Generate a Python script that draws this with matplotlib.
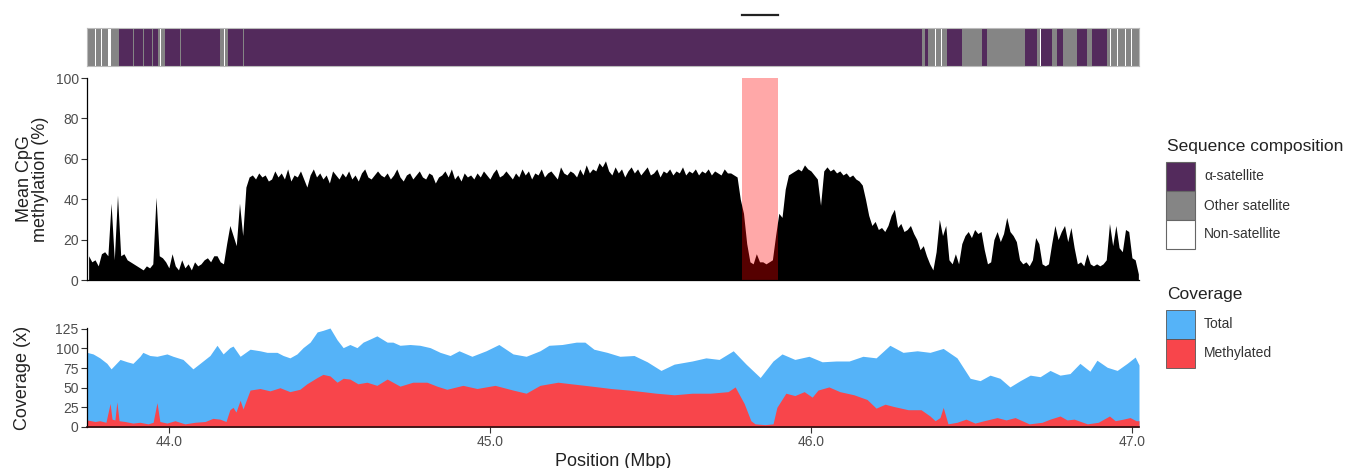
import numpy as np
import matplotlib
matplotlib.use("Agg")
import matplotlib.pyplot as plt
from matplotlib.patches import Rectangle
from matplotlib.transforms import blended_transform_factory

plt.rcParams['font.family'] = ['Liberation Sans', 'DejaVu Sans']

# ---- data ----
# mean CpG methylation (%) on a 0.01 Mbp grid starting at 43.75 Mbp
meth_start = 43.75
meth_step = 0.01
meth_pct = [
    12, 9, 10, 7, 13, 14, 12, 38, 10, 42,    # 43.75
    12, 13, 10, 9, 8, 7, 6, 5, 7, 6,         # 43.85
    8, 41, 12, 11, 9, 6, 13, 7, 5, 10,       # 43.95
    6, 8, 5, 9, 7, 8, 10, 11, 9, 12,         # 44.05
    12, 9, 8, 18, 27, 22, 17, 38, 22, 46,    # 44.15
    51, 52, 50, 53, 51, 52, 49, 50, 54, 51,  # 44.25
    53, 50, 55, 49, 52, 51, 54, 50, 46, 52,  # 44.35
    55, 51, 53, 50, 52, 48, 54, 52, 50, 53,  # 44.45
    51, 54, 50, 52, 49, 53, 55, 51, 50, 52,  # 44.55
    54, 52, 51, 53, 50, 52, 55, 51, 49, 52,  # 44.65
    53, 50, 52, 54, 51, 50, 53, 52, 48, 51,  # 44.75
    52, 54, 51, 55, 50, 52, 49, 53, 51, 52,  # 44.85
    50, 53, 51, 54, 52, 50, 53, 55, 51, 52,  # 44.95
    54, 52, 50, 53, 51, 55, 52, 54, 50, 53,  # 45.05
    52, 55, 51, 53, 54, 52, 50, 56, 53, 52,  # 45.15
    54, 53, 51, 55, 52, 57, 53, 55, 54, 58,  # 45.25
    56, 59, 54, 52, 56, 53, 55, 51, 54, 56,  # 45.35
    53, 55, 52, 54, 56, 52, 53, 55, 51, 54,  # 45.45
    53, 55, 52, 54, 53, 56, 52, 54, 53, 55,  # 45.55
    52, 54, 53, 55, 52, 54, 53, 52, 55, 53,  # 45.65
    53, 52, 51, 40, 33, 18, 9, 8, 13, 9,     # 45.75
    9, 8, 9, 10, 22, 33, 31, 45, 52, 53,     # 45.85
    54, 55, 54, 57, 55, 54, 52, 50, 37, 54,  # 45.95
    56, 54, 55, 53, 54, 52, 53, 51, 52, 50,  # 46.05
    49, 47, 40, 32, 27, 29, 25, 26, 24, 27,  # 46.15
    32, 35, 26, 28, 24, 25, 27, 23, 20, 15,  # 46.25
    17, 12, 8, 5, 14, 30, 22, 27, 10, 8,     # 46.35
    13, 8, 18, 22, 24, 21, 25, 23, 24, 15,   # 46.45
    8, 9, 20, 24, 19, 23, 31, 24, 22, 19,    # 46.55
    10, 8, 9, 7, 10, 21, 18, 8, 7, 8,        # 46.65
    18, 27, 20, 24, 27, 19, 26, 16, 8, 9,    # 46.75
    7, 13, 8, 7, 8, 7, 8, 10, 28, 17,        # 46.85
    27, 16, 14, 25, 24, 11, 10, 3,           # 46.95
]

# total coverage
total_pos = [43.745, 43.764, 43.785, 43.807, 43.820, 43.848, 43.870, 43.888, 43.910, 43.919,
             43.941, 43.963, 43.994, 44.013, 44.044, 44.075, 44.097, 44.128, 44.150, 44.169,
             44.190, 44.200, 44.222, 44.253, 44.284, 44.306, 44.337, 44.356, 44.377, 44.399,
             44.418, 44.440, 44.462, 44.480, 44.502, 44.524, 44.543, 44.564, 44.586, 44.605,
             44.627, 44.648, 44.680, 44.698, 44.720, 44.751, 44.782, 44.814, 44.845, 44.876,
             44.904, 44.944, 44.988, 45.028, 45.072, 45.113, 45.156, 45.184, 45.225, 45.269,
             45.296, 45.324, 45.365, 45.405, 45.449, 45.490, 45.533, 45.574, 45.630, 45.673,
             45.714, 45.758, 45.798, 45.842, 45.882, 45.910, 45.950, 45.994, 46.035, 46.078,
             46.119, 46.162, 46.203, 46.246, 46.287, 46.331, 46.371, 46.412, 46.455, 46.496,
             46.527, 46.558, 46.589, 46.620, 46.652, 46.683, 46.714, 46.745, 46.776, 46.807,
             46.838, 46.869, 46.891, 46.923, 46.954, 46.985, 47.010, 47.022]
total_cov = [95, 93, 88, 81, 74, 86, 83, 81, 90, 95,
             91, 90, 93, 90, 86, 74, 81, 91, 104, 93,
             101, 103, 90, 99, 97, 95, 95, 91, 88, 93,
             101, 108, 121, 123, 126, 111, 101, 105, 101, 108,
             112, 116, 108, 108, 104, 105, 104, 101, 95, 91,
             97, 90, 97, 105, 93, 90, 97, 104, 105, 108,
             108, 99, 95, 90, 91, 83, 72, 80, 84, 88,
             86, 97, 80, 63, 84, 93, 86, 90, 83, 84,
             84, 90, 88, 104, 95, 97, 95, 100, 88, 62,
             59, 66, 62, 51, 59, 66, 64, 72, 66, 68,
             81, 71, 85, 76, 72, 81, 89, 79]

# methylated coverage
meth_cov_pos = [43.745, 43.770, 43.785, 43.804, 43.817, 43.823, 43.832, 43.838, 43.845, 43.863,
                43.888, 43.910, 43.935, 43.951, 43.963, 43.972, 43.994, 44.019, 44.050, 44.081,
                44.113, 44.137, 44.159, 44.178, 44.190, 44.200, 44.209, 44.222, 44.231, 44.253,
                44.284, 44.315, 44.346, 44.377, 44.408, 44.430, 44.462, 44.480, 44.502, 44.524,
                44.543, 44.564, 44.589, 44.617, 44.648, 44.680, 44.720, 44.760, 44.804, 44.835,
                44.866, 44.916, 44.960, 45.016, 45.072, 45.113, 45.156, 45.212, 45.253, 45.296,
                45.337, 45.377, 45.433, 45.477, 45.518, 45.574, 45.630, 45.686, 45.742, 45.764,
                45.792, 45.813, 45.826, 45.857, 45.882, 45.894, 45.922, 45.950, 45.979, 46.004,
                46.022, 46.056, 46.090, 46.134, 46.175, 46.203, 46.231, 46.259, 46.303, 46.343,
                46.371, 46.387, 46.402, 46.412, 46.427, 46.455, 46.483, 46.511, 46.539, 46.580,
                46.608, 46.636, 46.680, 46.720, 46.745, 46.776, 46.798, 46.820, 46.861, 46.895,
                46.930, 46.948, 46.973, 46.994, 47.013, 47.022]
meth_cov = [9, 7, 8, 6, 30, 10, 9, 32, 8, 7,
            5, 6, 4, 6, 31, 7, 5, 8, 4, 6,
            7, 11, 10, 7, 22, 25, 19, 34, 23, 47,
            49, 46, 50, 45, 48, 55, 63, 67, 65, 57,
            62, 61, 55, 57, 53, 61, 52, 57, 57, 52,
            48, 53, 49, 53, 47, 43, 53, 57, 55, 53,
            51, 49, 47, 45, 43, 41, 43, 43, 45, 51,
            30, 8, 4, 3, 4, 25, 43, 40, 45, 38,
            47, 51, 45, 41, 35, 24, 29, 26, 22, 22,
            14, 8, 12, 25, 4, 6, 10, 5, 8, 12,
            9, 12, 4, 6, 10, 14, 9, 10, 4, 6,
            14, 8, 10, 12, 8, 8]

# sequence composition segments (edges in Mbp)
comp_edges = [43.745, 43.770, 43.773, 43.789, 43.792, 43.810, 43.819, 43.845, 43.888, 43.891,
              43.920, 43.923, 43.948, 43.951, 43.966, 43.972, 43.975, 43.988, 44.035, 44.038,
              44.159, 44.172, 44.175, 44.184, 44.231, 44.234, 46.346, 46.356, 46.365, 46.387,
              46.390, 46.405, 46.408, 46.424, 46.471, 46.533, 46.549, 46.667, 46.705, 46.714,
              46.717, 46.751, 46.767, 46.786, 46.829, 46.860, 46.876, 46.923, 46.932, 46.935,
              46.954, 46.957, 46.979, 46.982, 46.997, 47.000, 47.022]
comp_type = ["other", "non", "other", "non", "other", "non", "other", "alpha", "other",
             "alpha", "other", "alpha", "other", "alpha", "other", "non", "other", "alpha",
             "other", "alpha", "other", "non", "other", "alpha", "other", "alpha", "other",
             "alpha", "other", "non", "other", "non", "other", "alpha", "other", "alpha",
             "other", "alpha", "other", "non", "alpha", "other", "alpha", "other", "alpha",
             "other", "alpha", "other", "non", "other", "non", "other", "non", "other",
             "non", "other"]

cdr_start, cdr_end = 45.785, 45.898
x_ticks = [44.0, 45.0, 46.0, 47.0]

comp_colors = {"alpha": "#532a5c", "other": "#858585", "non": "#ffffff"}
comp_labels = {"alpha": "\u03b1-satellite", "other": "Other satellite", "non": "Non-satellite"}
blue = "#55b3f8"
red = "#f8454b"

# ---- figure ----
W, H = 1351, 468
fig = plt.figure(figsize=(W / 100, H / 100), dpi=100)


def px_axes(x0, y0, x1, y1):
    return fig.add_axes([x0 / W, 1 - y1 / H, (x1 - x0) / W, (y1 - y0) / H])


xmin, xmax = 43.745, 47.022
tick_kw = dict(length=4, width=0.8, color="#333333", labelcolor="#4d4d4d",
               labelsize=10, pad=2)

# composition bar
ax_top = px_axes(87, 28, 1139, 66)
for s, e, t in zip(comp_edges[:-1], comp_edges[1:], comp_type):
    ax_top.axvspan(s, e, color=comp_colors[t], lw=0)
ax_top.set_xlim(xmin, xmax)
ax_top.set_ylim(0, 1)
ax_top.set_xticks([])
ax_top.set_yticks([])
for sp in ax_top.spines.values():
    sp.set_color("#bbbbbb")
    sp.set_linewidth(0.8)
trans = blended_transform_factory(ax_top.transData, ax_top.transAxes)
ax_top.plot([cdr_start, cdr_end], [1.34, 1.34], transform=trans, clip_on=False,
            color="#222222", lw=1.6)

# methylation
meth_x = meth_start + meth_step * np.arange(len(meth_pct))
ax_mid = px_axes(87, 78, 1139, 280)
ax_mid.fill_between(meth_x, 0, meth_pct, color="black", lw=0)
ax_mid.axvspan(cdr_start, cdr_end, color="red", alpha=0.34, lw=0)
ax_mid.set_xlim(xmin, xmax)
ax_mid.set_ylim(0, 100)
ax_mid.set_yticks([0, 20, 40, 60, 80, 100])
ax_mid.set_xticks([])
ax_mid.tick_params(axis="y", **tick_kw)
ax_mid.spines["top"].set_visible(False)
ax_mid.spines["right"].set_visible(False)
ax_mid.spines["left"].set_linewidth(0.9)
ax_mid.spines["bottom"].set_linewidth(0.9)
ax_mid.set_ylabel("Mean CpG\nmethylation (%)", fontsize=13, color="#222222",
                  linespacing=0.95)
ax_mid.yaxis.set_label_coords(-0.036, 0.5)

# coverage
ax_bot = px_axes(87, 328, 1139, 427)
ax_bot.fill_between(total_pos, 0, total_cov, color=blue, lw=0)
ax_bot.fill_between(meth_cov_pos, 0, meth_cov, color=red, lw=0)
ax_bot.set_xlim(xmin, xmax)
ax_bot.set_ylim(0, 126)
ax_bot.set_yticks([0, 25, 50, 75, 100, 125])
ax_bot.set_xticks(x_ticks)
ax_bot.set_xticklabels([f"{t:.1f}" for t in x_ticks])
ax_bot.tick_params(axis="both", **tick_kw)
ax_bot.spines["top"].set_visible(False)
ax_bot.spines["right"].set_visible(False)
ax_bot.spines["left"].set_linewidth(0.9)
ax_bot.spines["bottom"].set_linewidth(1.2)
ax_bot.spines["bottom"].set_color("#2a0a0a")
ax_bot.set_ylabel("Coverage (x)", fontsize=13, color="#222222")
ax_bot.yaxis.set_label_coords(-0.053, 0.5)
ax_bot.set_xlabel("Position (Mbp)", fontsize=13, color="#222222", labelpad=3)

# legends drawn in pixel space
ax_leg = fig.add_axes([0, 0, 1, 1])
ax_leg.set_xlim(0, W)
ax_leg.set_ylim(H, 0)
ax_leg.set_axis_off()

ax_leg.text(1167, 146, "Sequence composition", fontsize=12.5, color="#222222",
            va="center", ha="left")
for i, key in enumerate(["alpha", "other", "non"]):
    y0 = 162 + i * 29
    ax_leg.add_patch(Rectangle((1166, y0), 29, 29, facecolor=comp_colors[key],
                               edgecolor="#666666", lw=0.8))
    ax_leg.text(1204, y0 + 14.5, comp_labels[key], fontsize=10, color="#333333",
                va="center", ha="left")

ax_leg.text(1167, 295, "Coverage", fontsize=12.5, color="#222222",
            va="center", ha="left")
for i, (lab, col) in enumerate([("Total", blue), ("Methylated", red)]):
    y0 = 310 + i * 29
    ax_leg.add_patch(Rectangle((1166, y0), 29, 29, facecolor=col,
                               edgecolor="#555555", lw=0.6))
    ax_leg.text(1204, y0 + 14.5, lab, fontsize=10, color="#333333",
                va="center", ha="left")

fig.savefig("out.png", dpi=100)
